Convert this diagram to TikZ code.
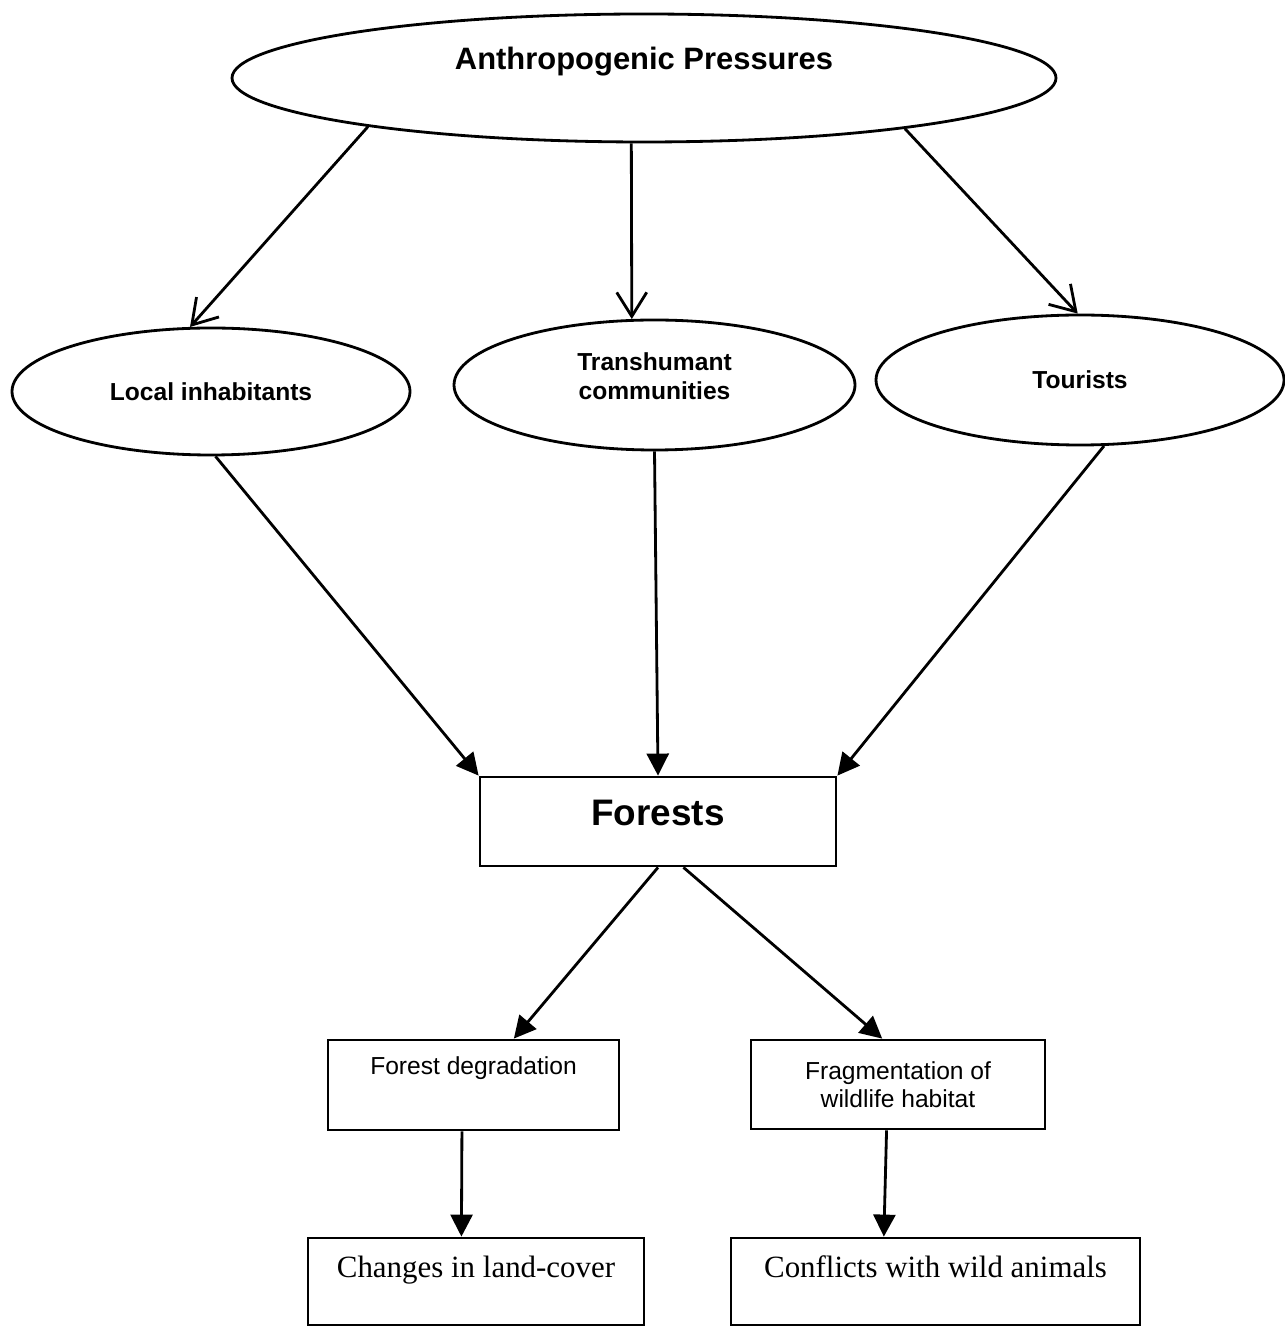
\documentclass[tikz,border=0pt]{standalone}
\usepackage{fontspec}
\setmainfont{Liberation Serif}
\newfontfamily\arialf{Liberation Sans}
\usetikzlibrary{shapes.geometric,arrows.meta}
\tikzset{
  oval/.style={draw, ellipse, line width=0.8pt, inner sep=0pt, align=center,
    font=\arialf\bfseries\fontsize{7}{8.3}\selectfont},
  box/.style={draw, rectangle, line width=0.8pt, inner sep=0pt, align=center},
  sansbox/.style={box, font=\arialf\fontsize{7}{8}\selectfont},
  serifbox/.style={box, font=\fontsize{8.8}{10}\selectfont},
  opn/.style={-{Straight Barb[length=2.4mm,width=3mm]}, line width=0.8pt},
  fwd/.style={-{Triangle[length=2.2mm,width=2.2mm]}, line width=0.8pt}
}
\begin{document}
\begin{tikzpicture}
\useasboundingbox (0,0) rectangle (12.84,-13.26);
\node (top) at (6.44,-.78) [oval, minimum width=8.24cm, minimum height=1.28cm,
  font=\arialf\bfseries\fontsize{8.8}{10}\selectfont, text depth=11pt]{Anthropogenic Pressures};
\node (local) at (2.11,-3.915) [oval, minimum width=3.98cm, minimum height=1.27cm]{Local inhabitants};
\node (trans) at (6.545,-3.85) [oval, minimum width=4.01cm, minimum height=1.30cm, text depth=5pt]{Transhumant\\communities};
\node (tourists) at (10.8,-3.8) [oval, minimum width=4.08cm, minimum height=1.30cm]{Tourists};
\node (forests) at (6.58,-8.215) [box, minimum width=3.56cm, minimum height=.89cm,
  font=\arialf\bfseries\fontsize{10.5}{12}\selectfont, text depth=5pt]{Forests};
\node (deg) at (4.735,-10.85) [sansbox, minimum width=2.91cm, minimum height=.90cm, text depth=11pt]{Forest degradation};
\node (frag) at (8.98,-10.845) [sansbox, minimum width=2.94cm, minimum height=.89cm]{Fragmentation of\\wildlife habitat};
\node (changes) at (4.76,-12.815) [serifbox, minimum width=3.36cm, minimum height=.87cm, text depth=8.5pt]{Changes in land-cover};
\node (conflicts) at (9.355,-12.815) [serifbox, minimum width=4.09cm, minimum height=.87cm, text depth=8.5pt]{Conflicts with wild animals};
% pressures on the three groups
\draw[opn](top.190) -- (local.108);
\draw[opn](top.259) -- (trans.109);
\draw[opn](top.349) -- (tourists.92);
% groups on the forests
\draw[fwd](local.274) -- (forests.north west);
\draw[fwd](trans.south) -- (forests.north);
\draw[fwd](tourists.290) -- (forests.north east);
% effects
\draw[fwd](forests.299) -- (frag.109);
\draw[fwd](forests.south) -- (deg.49);
\draw[fwd](deg.256) -- (changes.108);
\draw[fwd](frag.256) -- (conflicts.139);
\end{tikzpicture}
\end{document}
